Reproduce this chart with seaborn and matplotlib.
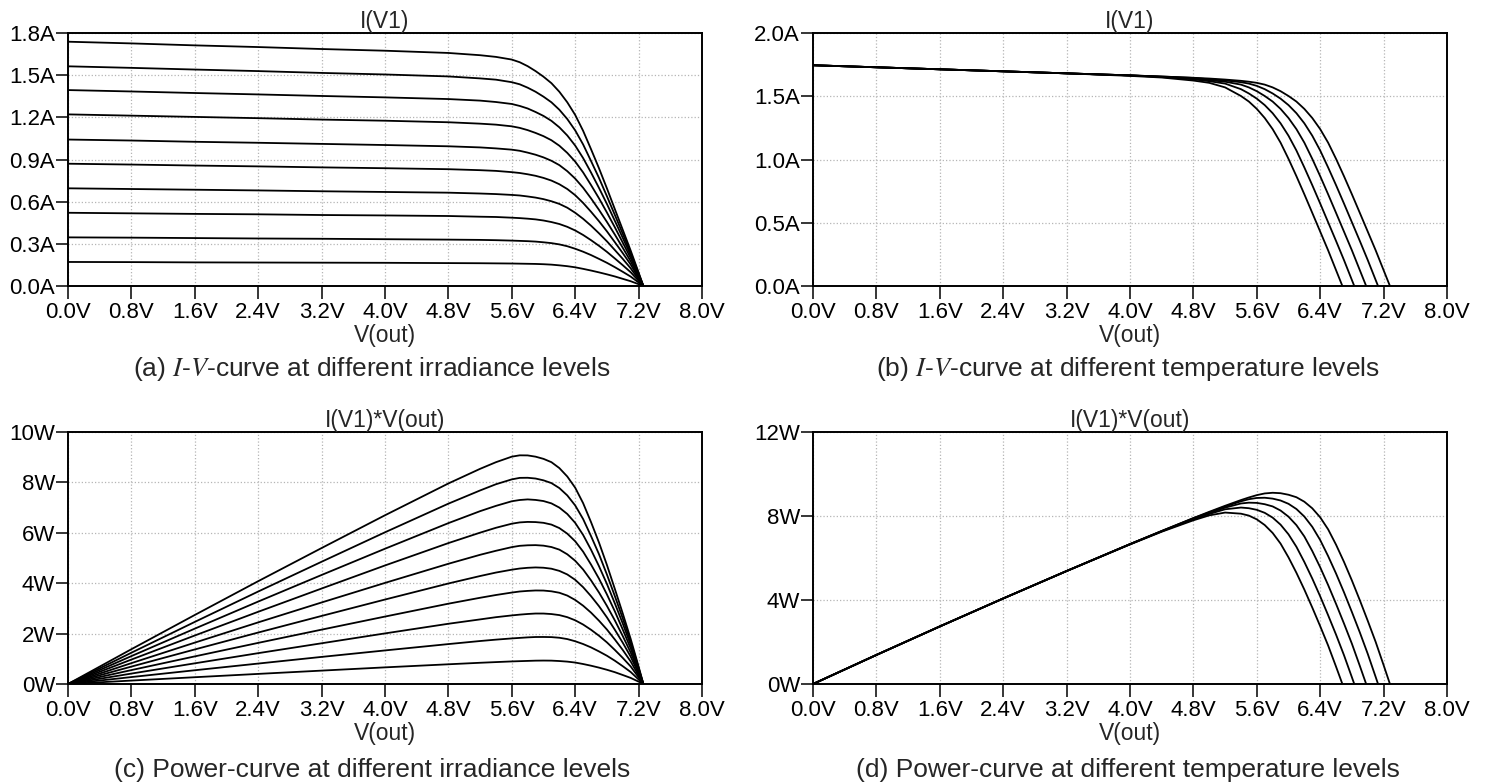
import numpy as np
import pandas as pd
import matplotlib
matplotlib.use("Agg")
import matplotlib.pyplot as plt
import seaborn as sns

# ---- I-V data, different irradiance levels (panel a / c) ----
v_grid_irr = [0, 0.8, 1.6, 2.4, 3.2, 4.0, 4.8, 5.2, 5.4, 5.6, 5.7, 5.8, 5.9, 6.0, 6.1, 6.2, 6.3,
              6.4, 6.5, 6.6, 6.7, 6.8, 6.9, 7.0, 7.1, 7.2, 7.26]
i_1000 = [1.738, 1.726, 1.712, 1.700, 1.686, 1.674, 1.658, 1.642, 1.630, 1.611, 1.592, 1.564, 1.529, 1.489,
          1.443, 1.382, 1.307, 1.217, 1.104, 0.973, 0.838, 0.695, 0.547, 0.400, 0.252, 0.096, 0]
i_900 = [1.563, 1.552, 1.540, 1.529, 1.516, 1.505, 1.491, 1.477, 1.468, 1.450, 1.435, 1.411, 1.382, 1.347,
         1.307, 1.254, 1.188, 1.107, 1.007, 0.889, 0.769, 0.639, 0.506, 0.372, 0.236, 0.089, 0]
i_800 = [1.394, 1.384, 1.373, 1.363, 1.352, 1.342, 1.330, 1.319, 1.309, 1.295, 1.281, 1.263, 1.238, 1.210,
         1.175, 1.129, 1.071, 0.999, 0.910, 0.807, 0.698, 0.584, 0.464, 0.343, 0.219, 0.082, 0]
i_700 = [1.221, 1.212, 1.203, 1.194, 1.184, 1.176, 1.165, 1.155, 1.148, 1.136, 1.125, 1.109, 1.089, 1.066,
         1.037, 0.998, 0.947, 0.885, 0.808, 0.718, 0.624, 0.523, 0.418, 0.309, 0.199, 0.076, 0]
i_600 = [1.042, 1.035, 1.026, 1.019, 1.011, 1.003, 0.994, 0.986, 0.979, 0.970, 0.962, 0.949, 0.934, 0.915,
         0.891, 0.860, 0.817, 0.764, 0.699, 0.623, 0.542, 0.456, 0.366, 0.272, 0.176, 0.067, 0]
i_500 = [0.870, 0.864, 0.857, 0.851, 0.844, 0.838, 0.831, 0.824, 0.819, 0.810, 0.804, 0.795, 0.784, 0.769,
         0.750, 0.724, 0.690, 0.646, 0.591, 0.528, 0.461, 0.389, 0.312, 0.234, 0.153, 0.057, 0]
i_400 = [0.695, 0.690, 0.685, 0.680, 0.674, 0.669, 0.664, 0.658, 0.654, 0.648, 0.644, 0.637, 0.629, 0.618,
         0.603, 0.584, 0.557, 0.521, 0.478, 0.429, 0.375, 0.318, 0.256, 0.193, 0.126, 0.047, 0]
i_300 = [0.521, 0.517, 0.513, 0.510, 0.505, 0.502, 0.498, 0.493, 0.491, 0.486, 0.483, 0.479, 0.474, 0.466,
         0.455, 0.441, 0.421, 0.395, 0.363, 0.326, 0.286, 0.243, 0.196, 0.148, 0.098, 0.037, 0]
i_200 = [0.346, 0.344, 0.341, 0.338, 0.336, 0.333, 0.330, 0.328, 0.326, 0.323, 0.321, 0.319, 0.316, 0.311,
         0.305, 0.296, 0.283, 0.265, 0.244, 0.220, 0.193, 0.165, 0.134, 0.101, 0.067, 0.025, 0]
i_100 = [0.171, 0.170, 0.168, 0.167, 0.166, 0.165, 0.163, 0.162, 0.161, 0.160, 0.159, 0.158, 0.157, 0.155,
         0.152, 0.147, 0.141, 0.133, 0.122, 0.110, 0.097, 0.083, 0.068, 0.051, 0.034, 0.013, 0]
irr_curves = [i_100, i_200, i_300, i_400, i_500, i_600, i_700, i_800, i_900, i_1000]

# ---- I-V data, different temperature levels (panel b / d) ----
v_grid_temp = [0, 0.8, 1.6, 2.4, 3.2, 4.0, 4.4, 4.8, 5.0, 5.2, 5.4, 5.5, 5.6, 5.7, 5.8, 5.9, 6.0,
               6.1, 6.2, 6.3, 6.4, 6.5, 6.6, 6.7, 6.8, 6.9, 7.0, 7.1, 7.2]
voc_temp = [7.28, 7.13, 6.98, 6.83, 6.68]
i_t1 = [1.745, 1.729, 1.713, 1.697, 1.681, 1.665, 1.656, 1.646, 1.640, 1.632, 1.622, 1.615, 1.606, 1.592,
        1.570, 1.540, 1.502, 1.458, 1.400, 1.328, 1.240, 1.133, 1.005, 0.868, 0.725, 0.578, 0.430, 0.282, 0.125]
i_t2 = [1.745, 1.729, 1.713, 1.697, 1.681, 1.665, 1.656, 1.645, 1.634, 1.625, 1.611, 1.600, 1.582, 1.556,
        1.522, 1.481, 1.430, 1.366, 1.286, 1.188, 1.071, 0.937, 0.797, 0.652, 0.504, 0.356, 0.205, 0.047]
i_t3 = [1.745, 1.729, 1.713, 1.697, 1.681, 1.665, 1.653, 1.640, 1.627, 1.615, 1.592, 1.570, 1.540, 1.502,
        1.458, 1.400, 1.328, 1.240, 1.133, 1.005, 0.868, 0.725, 0.578, 0.430, 0.282, 0.125]
i_t4 = [1.745, 1.729, 1.713, 1.697, 1.681, 1.665, 1.652, 1.634, 1.619, 1.600, 1.556, 1.522, 1.481, 1.430,
        1.366, 1.286, 1.188, 1.071, 0.937, 0.797, 0.652, 0.504, 0.356, 0.205, 0.047]
i_t5 = [1.745, 1.729, 1.713, 1.697, 1.681, 1.661, 1.648, 1.624, 1.606, 1.570, 1.502, 1.458, 1.400, 1.328,
        1.240, 1.133, 1.005, 0.868, 0.725, 0.578, 0.430, 0.282, 0.125]
temp_curves = [i_t1, i_t2, i_t3, i_t4, i_t5]

x_ticks = [0, 0.8, 1.6, 2.4, 3.2, 4.0, 4.8, 5.6, 6.4, 7.2, 8.0]

captions = [
    r"(a) $I$-$V$-curve at different irradiance levels",
    r"(b) $I$-$V$-curve at different temperature levels",
    "(c) Power-curve at different irradiance levels",
    "(d) Power-curve at different temperature levels",
]


def build_irr_frame():
    rows = []
    for k, cur in enumerate(irr_curves):
        for v, i in zip(v_grid_irr, cur):
            rows.append({"curve": k, "V": v, "I": i})
    df = pd.DataFrame(rows)
    df["P"] = df["V"] * df["I"]
    return df


def build_temp_frame():
    rows = []
    for k, (cur, voc) in enumerate(zip(temp_curves, voc_temp)):
        vs = v_grid_temp[:len(cur)] + [voc]
        for v, i in zip(vs, cur + [0.0]):
            rows.append({"curve": k, "V": v, "I": i})
    df = pd.DataFrame(rows)
    df["P"] = df["V"] * df["I"]
    return df


def style_axes(ax, ymax, ystep, yfmt, title):
    ax.set_xlim(0, 8.0)
    ax.set_ylim(0, ymax)
    ax.set_xticks(x_ticks)
    ax.set_xticklabels([f"{t:.1f}V" for t in x_ticks])
    yt = np.arange(0, ymax + 1e-9, ystep)
    ax.set_yticks(yt)
    ax.set_yticklabels([yfmt.format(t) for t in yt])
    ax.grid(True, linestyle=":", color="#b5b5b5", linewidth=0.9)
    ax.tick_params(axis="both", direction="out", length=9, width=1.1,
                   color="black", labelsize=16, labelcolor="black")
    ax.tick_params(axis="y", pad=0.3)
    ax.tick_params(axis="x", pad=2.5)
    for sp in ax.spines.values():
        sp.set_visible(True)
        sp.set_color("black")
        sp.set_linewidth(1.4)
    ax.set_xlabel("V(out)", fontsize=16.5, labelpad=1)
    ax.set_ylabel("")
    ax.set_title(title, fontsize=16.5, pad=1)


sns.set_theme(style="ticks")
plt.rcParams["font.family"] = ["Liberation Sans", "DejaVu Sans"]
plt.rcParams["mathtext.fontset"] = "stix"

W, H = 1488, 784
fig = plt.figure(figsize=(W / 100, H / 100), dpi=100)


def add_ax(left, right, top, bottom):
    return fig.add_axes([left / W, 1 - bottom / H, (right - left) / W, (bottom - top) / H])


ax_a = add_ax(68, 702, 33, 286)
ax_b = add_ax(813, 1447, 33, 286)
ax_c = add_ax(68, 702, 432, 684)
ax_d = add_ax(813, 1447, 432, 684)

df_irr = build_irr_frame()
df_temp = build_temp_frame()

line_kw = dict(units="curve", estimator=None, color="black", linewidth=1.3, legend=False)
sns.lineplot(data=df_irr, x="V", y="I", ax=ax_a, **line_kw)
sns.lineplot(data=df_temp, x="V", y="I", ax=ax_b, **line_kw)
sns.lineplot(data=df_irr, x="V", y="P", ax=ax_c, **line_kw)
sns.lineplot(data=df_temp, x="V", y="P", ax=ax_d, **line_kw)

style_axes(ax_a, 1.8, 0.3, "{:.1f}A", "I(V1)")
style_axes(ax_b, 2.0, 0.5, "{:.1f}A", "I(V1)")
style_axes(ax_c, 10, 2, "{:.0f}W", "I(V1)*V(out)")
style_axes(ax_d, 12, 4, "{:.0f}W", "I(V1)*V(out)")

cap_pos = [(372, 369), (1128, 369), (372, 770), (1128, 770)]
for (cx, cy), txt in zip(cap_pos, captions):
    fig.text(cx / W, 1 - cy / H, txt, ha="center", va="center", fontsize=19)

fig.savefig("out.png", dpi=100, facecolor="white")
